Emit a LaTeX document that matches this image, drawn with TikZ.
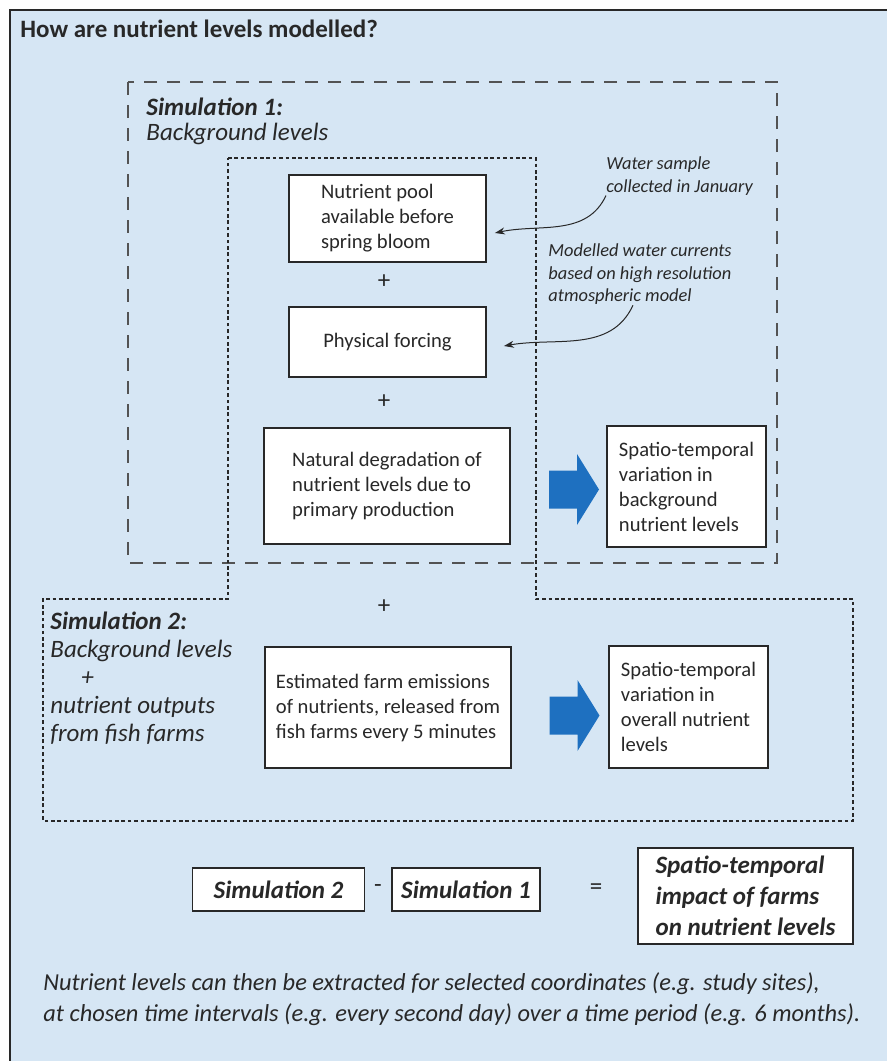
\documentclass[tikz,border=0pt]{standalone}
\usepackage{fontspec}
\setmainfont{Carlito}
\usetikzlibrary{arrows.meta}
\definecolor{bgblue}{RGB}{214,230,244}
\definecolor{arrowblue}{RGB}{30,112,192}
\definecolor{inkgray}{RGB}{40,40,40}
\tikzset{
    box/.style={draw=inkgray, line width=0.9pt, fill=white, inner sep=0pt, align=left, text=inkgray, font=\fontsize{10.3}{12.5}\selectfont},
    simbox/.style={box, font=\fontsize{12.5}{15.5}\selectfont\bfseries\itshape},
    note/.style={anchor=west, align=left, inner sep=0pt, text=inkgray, font=\fontsize{9.2}{11.25}\selectfont\itshape},
    simlabel/.style={anchor=north west, align=left, inner sep=0pt, text=inkgray, font=\fontsize{12.5}{#1}\selectfont\itshape},
    simlabel/.default=13.5,
    sign/.style={inner sep=0pt, text=inkgray, font=\fontsize{12.5}{12.5}\selectfont},
    notearrow/.style={-{Stealth[length=5pt,width=3.5pt]}, line width=0.5pt, draw=inkgray},
    bigarrow/.pic={\fill[arrowblue] (-25,-19) -- (3,-19) -- (3,-35.5) -- (25,0) -- (3,35.5) -- (3,19) -- (-25,19) -- cycle;},
    simdash/.style={draw=inkgray!80, line width=0.8pt, dash pattern=on 6.5pt off 5pt},
    simdot/.style={draw=inkgray, line width=1.1pt, dash pattern=on 1.8pt off 1.4pt}
}
\begin{document}
\begin{tikzpicture}[x=0.5pt, y=-0.5pt]
    \useasboundingbox (0,0) rectangle (887,1061);
    \fill[bgblue] (10,10) rectangle (887,1061);
    \draw[inkgray, line width=1pt] (10,1061) -- (10,10) -- (887,10);
    \node[anchor=base west, inner sep=0pt, text=inkgray, font=\fontsize{12.5}{15}\selectfont\bfseries] (title) at (20,37) {How are nutrient levels modelled?};

    \draw[simdash] (128,82) rectangle (777,563);
    \draw[simdot] (228,158) -- (536,158) -- (536,599) -- (853,599) -- (853,821) -- (43,821) -- (43,599) -- (228,599) -- cycle;

    \node[simlabel=12.5] (sim1lab) at (146,98) {\textbf{Simulation 1:}\\Background levels};
    \node[simlabel=14] (sim2lab) at (50,612) {\textbf{Simulation 2:}\\Background levels\\\hspace*{15.5pt}+\\nutrient outputs\\from fish farms};

    \node[box, minimum width=98.5pt, minimum height=43.5pt] (pool) at (387.5,218.5) {Nutrient pool\\available before\\spring bloom};
    \node[sign] (plus1) at (384,282) {+};
    \node[box, minimum width=98.5pt, minimum height=35pt] (forcing) at (387.5,342) {Physical forcing};
    \node[sign] (plus2) at (384,402) {+};
    \node[box, minimum width=123pt, minimum height=58pt] (degrad) at (387,486) {Natural degradation of\\nutrient levels due to\\primary production};
    \pic (arrow1) at (574,489.5) {bigarrow};
    \node[box, minimum width=79.5pt, minimum height=60.5pt] (bgvar) at (686.5,486.5) {Spatio-temporal\\variation in\\background\\nutrient levels};

    \node[sign] (plus3) at (384,607) {+};
    \node[box, minimum width=123pt, minimum height=60.5pt] (emission) at (388,707.5) {Estimated farm emissions\\of nutrients, released from\\fish farms every 5 minutes};
    \pic (arrow2) at (574.5,715.5) {bigarrow};
    \node[box, minimum width=79.5pt, minimum height=61pt] (overall) at (688.5,707) {Spatio-temporal\\variation in\\overall nutrient\\levels};

    \node[note] (water) at (606,176) {Water sample\\collected in January};
    \node[note] (currents) at (548,274.5) {Modelled water currents\\based on high resolution\\atmospheric model};
    \draw[notearrow] (water.south west) to[out=-115, in=12] ([xshift=4pt, yshift=-7.25pt]pool.east);
    \draw[notearrow] ([xshift=-3.5pt]currents.south) to[out=-115, in=10] ([xshift=8.5pt, yshift=-2pt]forcing.east);

    \node[simbox, minimum width=86pt, minimum height=21.5pt] (sim2) at (278.5,889.5) {Simulation 2};
    \node[sign] (minus) at (378,889) {-};
    \node[simbox, minimum width=74pt, minimum height=21.5pt] (sim1) at (466,889.5) {Simulation 1};
    \node[sign] (equals) at (596,889) {=};
    \node[simbox, line width=1.3pt, minimum width=107.5pt, minimum height=48pt] (impact) at (745.5,896) {Spatio-temporal\\impact of farms\\on nutrient levels};

    \node[anchor=north west, align=left, inner sep=0pt, text=inkgray, font=\fontsize{12.2}{15.5}\selectfont\itshape] (summary) at (43,972) {Nutrient levels can then be extracted for selected coordinates (e.g. study sites),\\at chosen time intervals (e.g. every second day) over a time period (e.g. 6 months).};
\end{tikzpicture}
\end{document}
